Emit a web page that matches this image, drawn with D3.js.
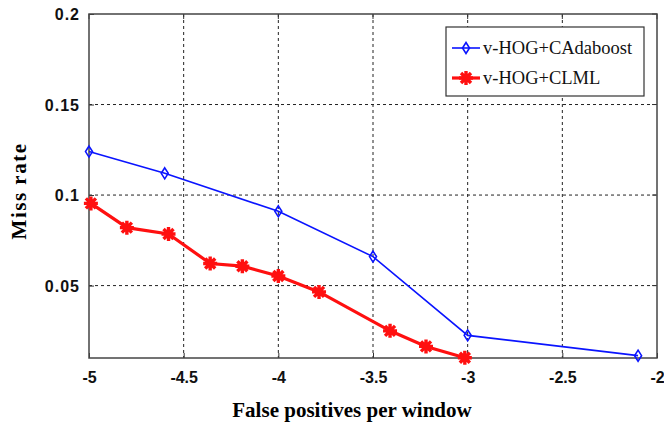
<!DOCTYPE html>
<html>
<head>
<meta charset="utf-8">
<script src="https://cdn.jsdelivr.net/npm/d3@7"></script>
<style>
  body { margin: 0; background: #fff; }
  .tick text { font-family: Arial, "Liberation Sans", sans-serif; font-weight: bold; font-size: 16px; fill: #111; }
</style>
</head>
<body>
<div id="chart"></div>
<script>
// data
var adaX = [-5, -4.6, -4, -3.5, -3, -2.1];
var adaY = [0.124, 0.112, 0.091, 0.066, 0.0225, 0.0113];
var clmlX = [-4.99, -4.8, -4.58, -4.36, -4.19, -4, -3.785, -3.41, -3.22, -3.015];
var clmlY = [0.0954, 0.082, 0.0785, 0.0622, 0.0607, 0.0553, 0.0465, 0.025, 0.0164, 0.0101];
var xTicks = [-5, -4.5, -4, -3.5, -3, -2.5, -2];
var yTicks = [0.05, 0.1, 0.15, 0.2];
var seriesNames = ["v-HOG+CAdaboost", "v-HOG+CLML"];

var W = 664, H = 428;
var margin = {left: 89, top: 14, right: 7, bottom: 70};
var pw = W - margin.left - margin.right, ph = H - margin.top - margin.bottom;

//Make an SVG Container
var svg = d3.select("#chart").append("svg")
  .attr("width", W)
  .attr("height", H);

var g = svg.append("g").attr("transform", "translate(" + margin.left + "," + margin.top + ")");

var x = d3.scaleLinear().domain([-5, -2]).range([0, pw]);
var y = d3.scaleLinear().domain([0.01, 0.2]).range([ph, 0]);

// grid
g.selectAll(".vgrid").data(xTicks.slice(1, -1)).enter().append("line")
  .attr("x1", d => x(d)).attr("x2", d => x(d))
  .attr("y1", 0).attr("y2", ph)
  .attr("stroke", "#222").attr("stroke-width", 1).attr("stroke-dasharray", "3,3");
g.selectAll(".hgrid").data(yTicks.slice(0, -1)).enter().append("line")
  .attr("x1", 0).attr("x2", pw)
  .attr("y1", d => y(d)).attr("y2", d => y(d))
  .attr("stroke", "#222").attr("stroke-width", 1).attr("stroke-dasharray", "3,3");

// axes
var xAxis = d3.axisBottom(x).tickValues(xTicks).tickSize(-5).tickPadding(14).tickFormat(d3.format("~g"));
var yAxis = d3.axisLeft(y).tickValues(yTicks).tickSize(-5).tickPadding(9).tickFormat(d3.format("~g"));
var gx = g.append("g").attr("transform", "translate(0," + ph + ")").call(xAxis);
var gy = g.append("g").call(yAxis);
gx.select(".domain").remove();
gy.select(".domain").remove();
gx.selectAll(".tick line").attr("stroke", "#333");
gy.selectAll(".tick line").attr("stroke", "#333");
gx.selectAll(".tick text").text(d => d3.format("~g")(d).replace("−", "-"));
gy.selectAll(".tick text").attr("dy", "0.35em").style("letter-spacing", "1px");
// top and right ticks
g.selectAll(".ttick").data(xTicks).enter().append("line")
  .attr("x1", d => x(d)).attr("x2", d => x(d)).attr("y1", 0).attr("y2", 5)
  .attr("stroke", "#333");
g.selectAll(".rtick").data(yTicks).enter().append("line")
  .attr("x1", pw).attr("x2", pw - 5).attr("y1", d => y(d)).attr("y2", d => y(d))
  .attr("stroke", "#333");

// box
g.append("rect").attr("x", 0).attr("y", 0).attr("width", pw).attr("height", ph)
  .attr("fill", "none").attr("stroke", "#444").attr("stroke-width", 1.5);

// lines
var line = d3.line().x(d => x(d[0])).y(d => y(d[1]));
var ada = d3.zip(adaX, adaY);
var clml = d3.zip(clmlX, clmlY);

g.append("path").datum(ada).attr("d", line)
  .attr("fill", "none").attr("stroke", "#0a14ff").attr("stroke-width", 1.6);
g.append("path").datum(clml).attr("d", line)
  .attr("fill", "none").attr("stroke", "#ff1010").attr("stroke-width", 3.2);

var diamond = "M0,-5.5L3.5,0L0,5.5L-3.5,0Z";
var star = "M0,-7V7M-7,0H7M-5,-5L5,5M-5,5L5,-5";

g.selectAll(".dm").data(ada).enter().append("path")
  .attr("transform", d => "translate(" + x(d[0]) + "," + y(d[1]) + ")")
  .attr("d", diamond).attr("fill", "none").attr("stroke", "#0a14ff").attr("stroke-width", 1.6);
g.selectAll(".st").data(clml).enter().append("path")
  .attr("transform", d => "translate(" + x(d[0]) + "," + y(d[1]) + ")")
  .attr("d", star).attr("fill", "none").attr("stroke", "#ff1010").attr("stroke-width", 3.4);

// legend
var lg = svg.append("g").attr("transform", "translate(446,27)");
lg.append("rect").attr("width", 198).attr("height", 69)
  .attr("fill", "#fff").attr("stroke", "#333").attr("stroke-width", 1.2);
var legendRows = [
  {name: seriesNames[0], color: "#0a14ff", w: 1.6, mark: diamond},
  {name: seriesNames[1], color: "#ff1010", w: 3.2, mark: star}
];
legendRows.forEach(function (r, i) {
  var yy = 21 + i * 30;
  lg.append("line").attr("x1", 6).attr("x2", 34).attr("y1", yy).attr("y2", yy)
    .attr("stroke", r.color).attr("stroke-width", r.w);
  lg.append("path").attr("transform", "translate(20," + yy + ")").attr("d", r.mark)
    .attr("fill", "none").attr("stroke", r.color).attr("stroke-width", i ? 3.4 : 1.6);
  lg.append("text").attr("x", 37).attr("y", yy + 6).text(r.name)
    .style("font-family", "'Liberation Serif', 'DejaVu Serif', serif")
    .style("font-size", "18.5px").style("fill", "#111");
});

// axis titles
svg.append("text").attr("x", 352).attr("y", 417)
  .attr("text-anchor", "middle").text("False positives per window")
  .style("font-family", "'Liberation Serif', serif").style("font-weight", "bold")
  .style("font-size", "21px");
svg.append("text").attr("transform", "translate(26,191) rotate(-90)")
  .attr("text-anchor", "middle").text("Miss rate")
  .style("font-family", "'Liberation Serif', serif").style("font-weight", "bold")
  .style("font-size", "21px").style("letter-spacing", "1.5px");
</script>
</body>
</html>
